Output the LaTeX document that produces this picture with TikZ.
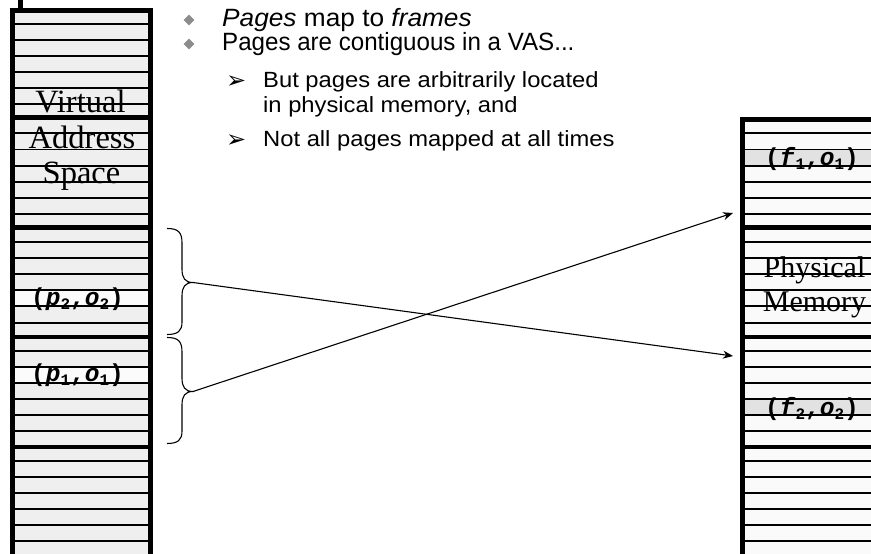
\documentclass[tikz,border=0pt]{standalone}
\usepackage{fontspec}
\setmainfont{Liberation Serif}
\newfontfamily\arialfont{Liberation Sans}
\newfontfamily\subfont[FakeStretch=1.08]{Liberation Sans}
\newfontfamily\monofont{Liberation Mono}
\newfontfamily\symfont{DejaVu Sans}
\usetikzlibrary{arrows.meta,shapes.geometric}
\definecolor{vasfill}{HTML}{EFEFEF}
\definecolor{vashi}{HTML}{FBFBFB}
\definecolor{pmfill}{HTML}{FAFAFA}
\definecolor{pmhi}{HTML}{E2E2E2}
\definecolor{bulletgray}{HTML}{8C8C8C}
\newcommand{\addr}[3]{{\monofont\bfseries(\textit{#1}\raisebox{-4.5pt}{\fontsize{16}{16}\selectfont #2},\textit{o}\raisebox{-4.5pt}{\fontsize{16}{16}\selectfont #3})}}
\begin{document}
\begin{tikzpicture}[x=1pt,y=-1pt,
  thinrow/.style={line width=1.3pt,black},
  thickbar/.style={line width=4.6pt,black},
  bigtext/.style={inner sep=0pt,anchor=base,font=\fontsize{32.5}{32.5}\selectfont},
  pmtext/.style={inner sep=0pt,anchor=base,font=\fontsize{30}{30}\selectfont},
  addrlabel/.style={inner sep=0pt,anchor=base,font=\fontsize{24.5}{24.5}\selectfont},
  bracepath/.style={line width=1.1pt,black},
  maparrow/.style={line width=1.1pt,black,-{Stealth[length=10pt,width=8pt]}},
  mainbullet/.style={diamond,fill=bulletgray,minimum size=11pt,inner sep=0pt},
  maintext/.style={inner sep=0pt,anchor=base west,font=\arialfont\fontsize{25}{25}\selectfont},
  subtext/.style={inner sep=0pt,anchor=base west,font=\subfont\fontsize{22}{22}\selectfont},
  subbullet/.style={inner sep=0pt,anchor=base west,font=\symfont\fontsize{24}{24}\selectfont}]
\useasboundingbox (0,0) rectangle (871,554);
\clip (0,0) rectangle (871,554);

% ---------- virtual address space (left column) ----------
\fill[vasfill] (15,12) rectangle (148,560);
\fill[vashi] (15,290) rectangle (148,306);
\fill[vashi] (15,367) rectangle (148,383);
\foreach \y in {24,40,56,72,88,104,133,149.5,166,182,198,214,242,258,274,290,306,323,351,367,383,399,415,431,461,477,493,509,525,541}
  \draw[thinrow] (15,\y) -- (148,\y);
\foreach \y in {117.5,227.5,337,447}
  \draw[thickbar] (12.5,\y) -- (150.5,\y);
\draw[thickbar] (12.5,560) -- (12.5,10.5) -- (150.5,10.5) -- (150.5,560);
\draw[line width=4.5pt] (20.5,0) -- (20.5,10.5);

% ---------- physical memory (right column) ----------
\fill[pmfill] (745,122) rectangle (880,560);
\fill[pmhi] (745,149.5) rectangle (880,166);
\fill[pmhi] (745,399) rectangle (880,415);
\foreach \y in {133,149.5,166,182,198,214,242,258,274,290,306,323,351,367,383,399,415,431,461,477,493,509,525,541}
  \draw[thinrow] (745,\y) -- (880,\y);
\foreach \y in {227.5,337,447}
  \draw[thickbar] (742.5,\y) -- (880,\y);
\draw[thickbar] (742.5,560) -- (742.5,119.5) -- (880,119.5);

% ---------- column titles ----------
\node[bigtext] (vas1) at (80.5,112) {Virtual};
\node[bigtext] (vas2) at (82,148) {Address};
\node[bigtext] (vas3) at (81.5,183) {Space};
\node[pmtext] (pm1) at (814.5,277) {Physical};
\node[pmtext] (pm2) at (814.5,311) {Memory};

% ---------- address labels ----------
\node[addrlabel] (p2) at (77.5,305) {\addr{p}{2}{2}};
\node[addrlabel] (p1) at (77.5,381) {\addr{p}{1}{1}};
\node[addrlabel] (f1) at (812,165) {\addr{f}{1}{1}};
\node[addrlabel] (f2) at (812,415) {\addr{f}{2}{2}};

% ---------- braces ----------
\coordinate (b1) at (193,282.5);
\coordinate (b2) at (193,391.5);
\draw[bracepath] (167,228.5) .. controls (178,228.5) and (182,232) .. (182,243)
  -- (182,269) .. controls (182,278) and (185,282.5) .. (b1)
  .. controls (185,282.5) and (182,287) .. (182,296)
  -- (182,322) .. controls (182,331) and (178,334.5) .. (167,334.5);
\draw[bracepath] (167,337.5) .. controls (178,337.5) and (182,341) .. (182,352)
  -- (182,378) .. controls (182,387) and (185,391.5) .. (b2)
  .. controls (185,391.5) and (182,396) .. (182,405)
  -- (182,431) .. controls (182,440) and (178,443.5) .. (167,443.5);

% ---------- mapping arrows ----------
\coordinate (t1) at (733,356);
\coordinate (t2) at (733,213);
\draw[maparrow] (b1) -- (t1);
\draw[maparrow] (b2) -- (t2);

% ---------- bullet text ----------
\node[mainbullet] (mb1) at (189,20) {};
\node[mainbullet] (mb2) at (189,44) {};
\node[maintext] (l1) at (222,27) {\scalebox{1.05}[1]{\textit{Pages} map to \textit{frames}}};
\node[maintext] (l2) at (222,50.5) {\scalebox{0.965}[1]{Pages are contiguous in a VAS...}};
\node[subbullet] (sb1) at (226,88) {➢};
\node[subbullet] (sb2) at (226,147) {➢};
\node[subtext] (s1) at (263,87.5) {But pages are arbitrarily located};
\node[subtext] (s1b) at (263,112) {in physical memory, and};
\node[subtext] (s2) at (263,146) {Not all pages mapped at all times};
\end{tikzpicture}
\end{document}
